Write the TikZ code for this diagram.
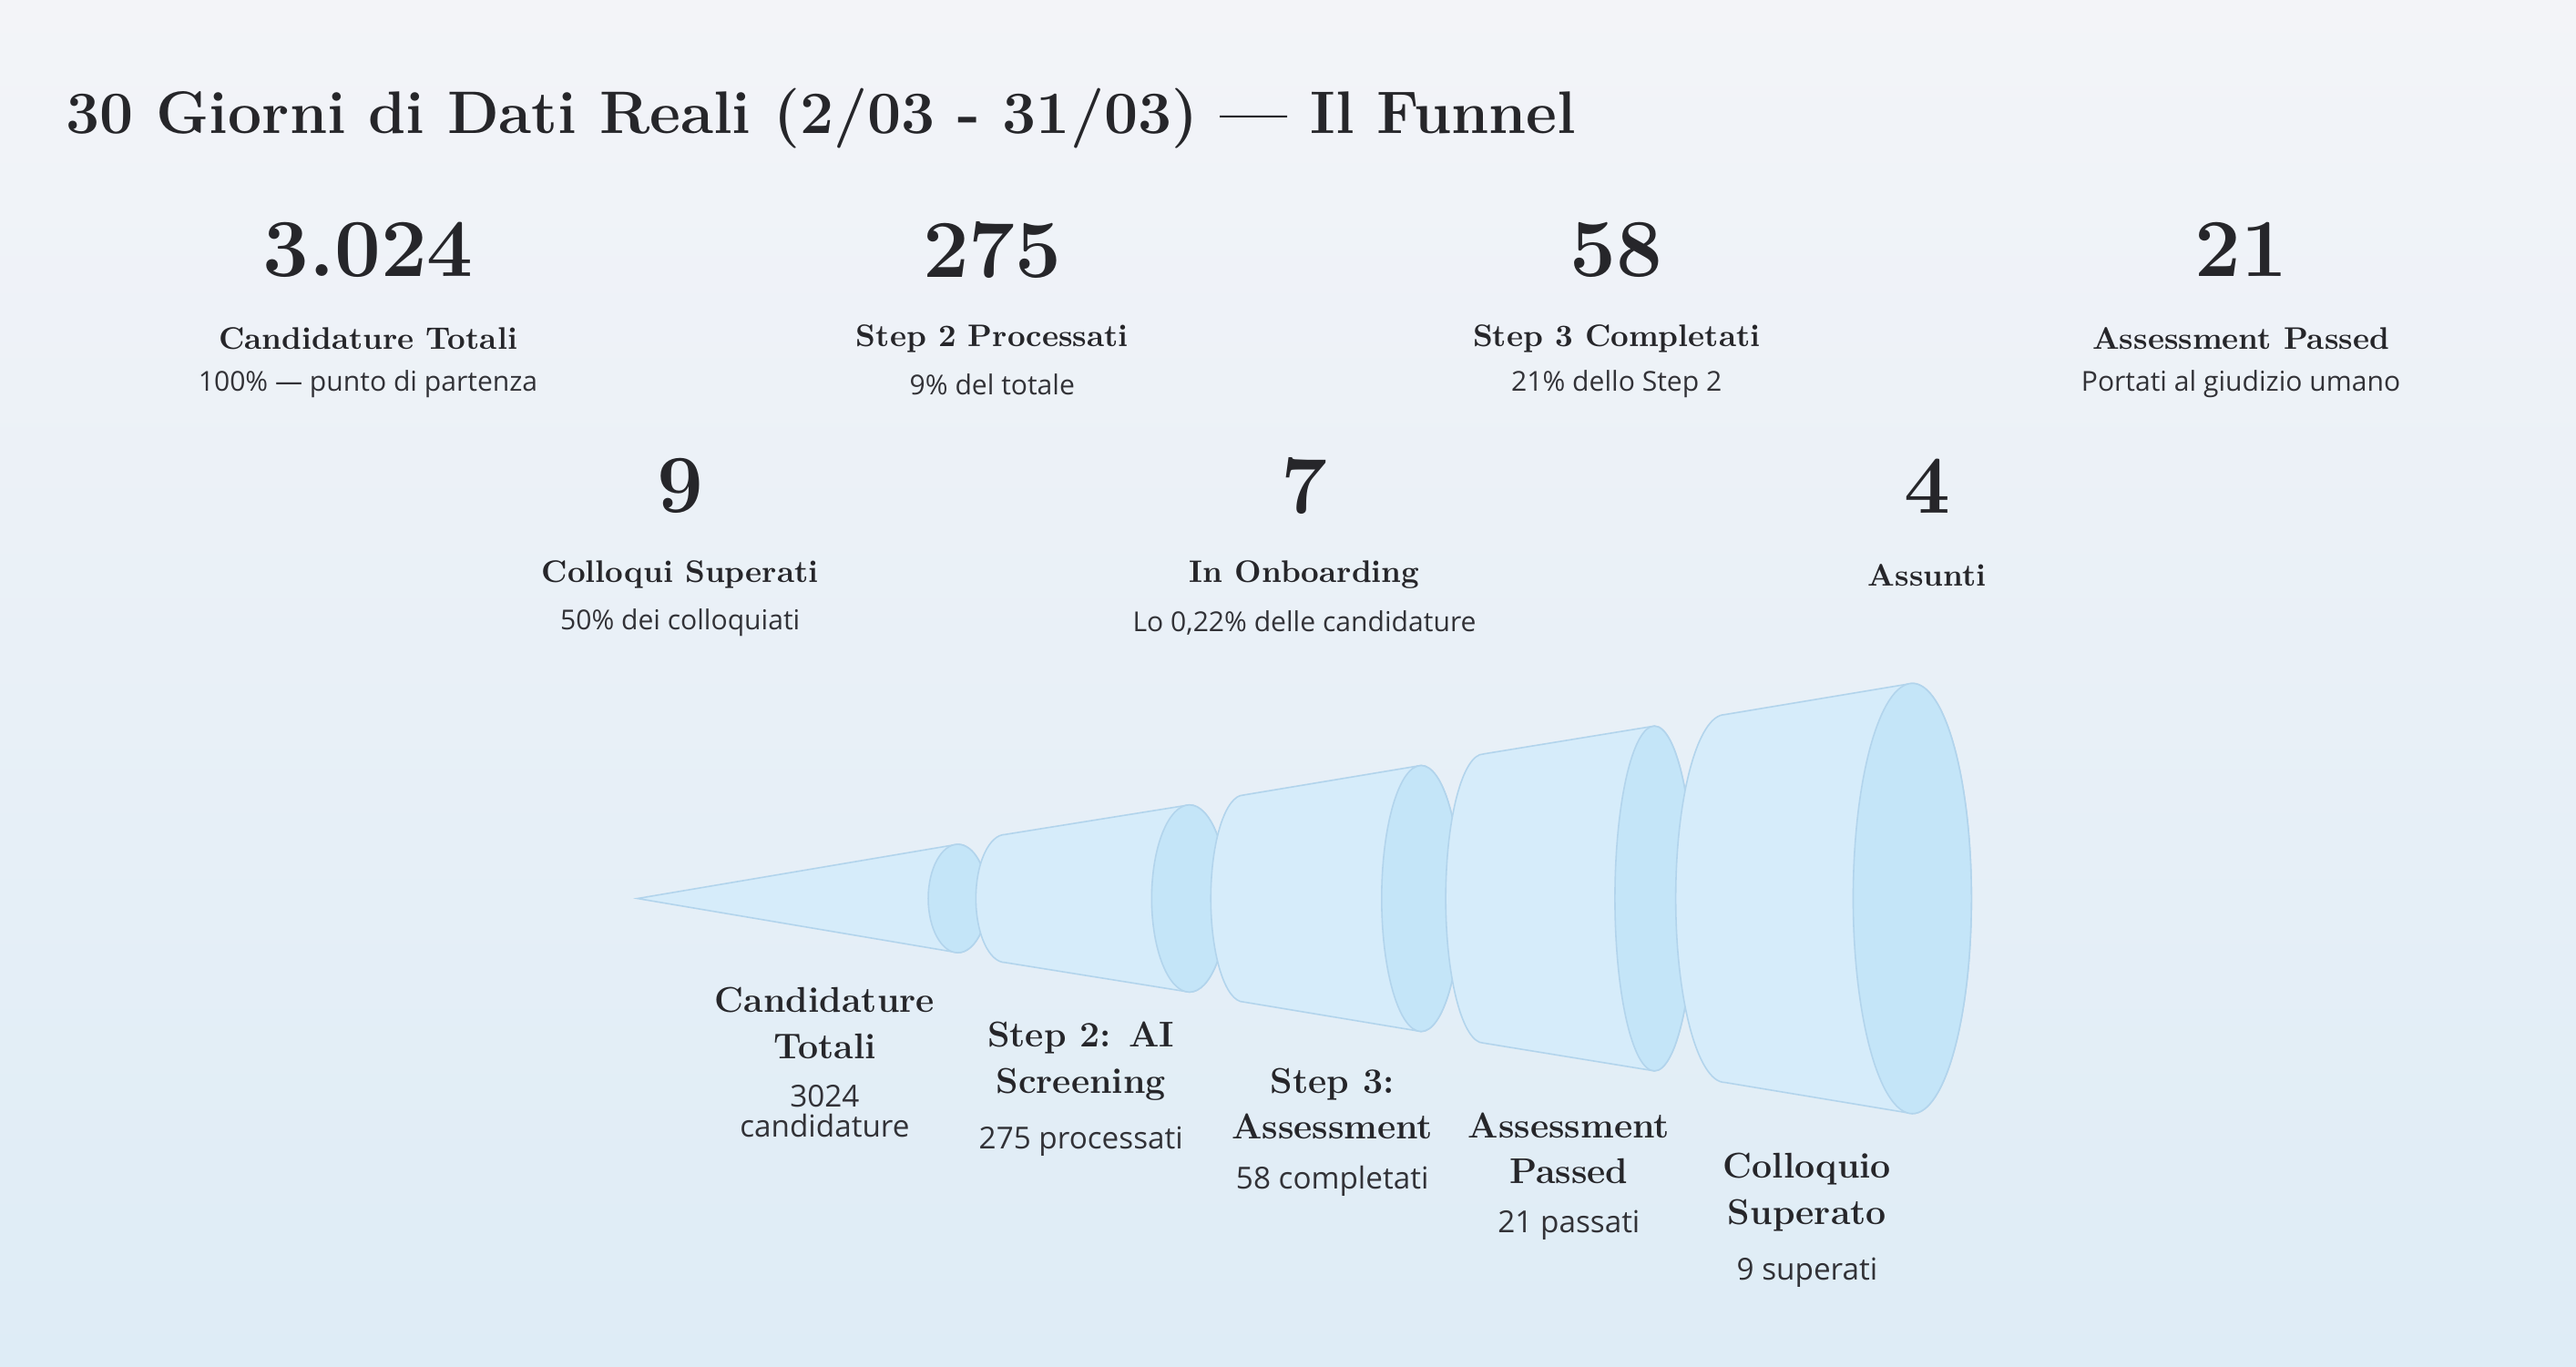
\documentclass[tikz,border=0pt]{standalone}
\usepackage{fontspec}
\usetikzlibrary{positioning}
\newfontfamily\uisans{Open Sans}
\definecolor{ink}{RGB}{38,38,42}
\definecolor{subink}{RGB}{50,50,55}
\definecolor{conebody}{RGB}{214,236,250}
\definecolor{coneface}{RGB}{196,229,248}
\definecolor{coneline}{RGB}{178,212,236}
\definecolor{bgtop}{RGB}{243,244,248}
\definecolor{bgbot}{RGB}{222,236,246}
\tikzset{
  bignum/.style={text=ink,font=\fontsize{28.5}{32}\selectfont\bfseries},
  statlab/.style={text=ink,font=\fontsize{10.8}{13}\selectfont\bfseries},
  statsub/.style={text=subink,font=\uisans\fontsize{9.5}{11}\selectfont},
  stagelab/.style={text=ink,align=center,font=\fontsize{12.4}{16}\selectfont\bfseries},
  stagesub/.style={text=subink,align=center,font=\uisans\fontsize{10.5}{10.5}\selectfont},
  body/.style={fill=conebody,draw=coneline,line width=0.5pt},
  face/.style={fill=coneface,draw=coneline,line width=0.5pt}
}
\begin{document}
\begin{tikzpicture}[x=0.02cm,y=0.02cm]
	\shade[top color=bgtop,bottom color=bgbot] (0,0) rectangle (1568,-832);
	\useasboundingbox (0,0) rectangle (1568,-832);

	\node[anchor=west,inner sep=0pt,text=ink,font=\fontsize{20.8}{24}\selectfont\bfseries] (title) at (40,-72)
		{30 Giorni di Dati Reali (2/03 - 31/03) --- Il Funnel};

	% riga 1
	\foreach \x/\n/\l/\s [count=\i] in {224/3.024/Candidature Totali/100\% — punto di partenza,
		604/275/Step 2 Processati/9\% del totale,
		984/58/Step 3 Completati/21\% dello Step 2,
		1364/21/Assessment Passed/Portati al giudizio umano} {
	     \node[bignum] (num\i) at (\x,-152) {\n};
	     \node[statlab] (lab\i) at (\x,-206) {\l};
	     \node[statsub] (sub\i) at (\x,-234) {\s};
	}
	% riga 2
	\foreach \x/\n/\l/\s [count=\i from 5] in {414/9/Colloqui Superati/50\% dei colloquiati,
		794/7/In Onboarding/{Lo 0,22\% delle candidature},
		1173/4/Assunti/{}} {
	     \node[bignum] (num\i) at (\x,-296) {\n};
	     \node[statlab] (lab\i) at (\x,-350) {\l};
	     \node[statsub] (sub\i) at (\x,-379) {\s};
	}

	% funnel
	\fill[body] (388,-547) -- (583,-514) arc[start angle=90,end angle=-90,x radius=0.36cm,y radius=0.66cm] -- cycle;
	\draw[face] (583,-547) ellipse[x radius=0.36cm,y radius=0.66cm];

	\fill[body] (612,-508) -- (724,-490) arc[start angle=90,end angle=-90,x radius=0.46cm,y radius=1.14cm]
		-- (612,-586) arc[start angle=270,end angle=90,x radius=0.36cm,y radius=0.78cm] -- cycle;
	\draw[face] (724,-547) ellipse[x radius=0.46cm,y radius=1.14cm];

	\fill[body] (757,-484) -- (865,-466) arc[start angle=90,end angle=-90,x radius=0.48cm,y radius=1.62cm]
		-- (757,-610) arc[start angle=270,end angle=90,x radius=0.40cm,y radius=1.26cm] -- cycle;
	\draw[face] (865,-547) ellipse[x radius=0.48cm,y radius=1.62cm];

	\fill[body] (903,-459) -- (1007,-442) arc[start angle=90,end angle=-90,x radius=0.48cm,y radius=2.10cm]
		-- (903,-635) arc[start angle=270,end angle=90,x radius=0.46cm,y radius=1.76cm] -- cycle;
	\draw[face] (1007,-547) ellipse[x radius=0.48cm,y radius=2.10cm];

	\fill[body] (1050,-435) -- (1164,-416) arc[start angle=90,end angle=-90,x radius=0.72cm,y radius=2.62cm]
		-- (1050,-659) arc[start angle=270,end angle=90,x radius=0.60cm,y radius=2.24cm] -- cycle;
	\draw[face] (1164,-547) ellipse[x radius=0.72cm,y radius=2.62cm];

	% etichette funnel
	\foreach \x/\y/\l/\s [count=\i] in {502/-623/Candidature\\Totali/3024\\candidature,
		658/-646/Step 2: AI\\Screening/275 processati,
		811/-672/Step 3:\\Assessment/58 completati,
		955/-699/Assessment\\Passed/21 passati,
		1100/-726/Colloquio\\Superato/9 superati} {
	     \node[stagelab] (stage\i) at (\x,\y) {\l};
	     \node[stagesub,below=2pt of stage\i] (stagesub\i) {\s};
	}
\end{tikzpicture}
\end{document}
